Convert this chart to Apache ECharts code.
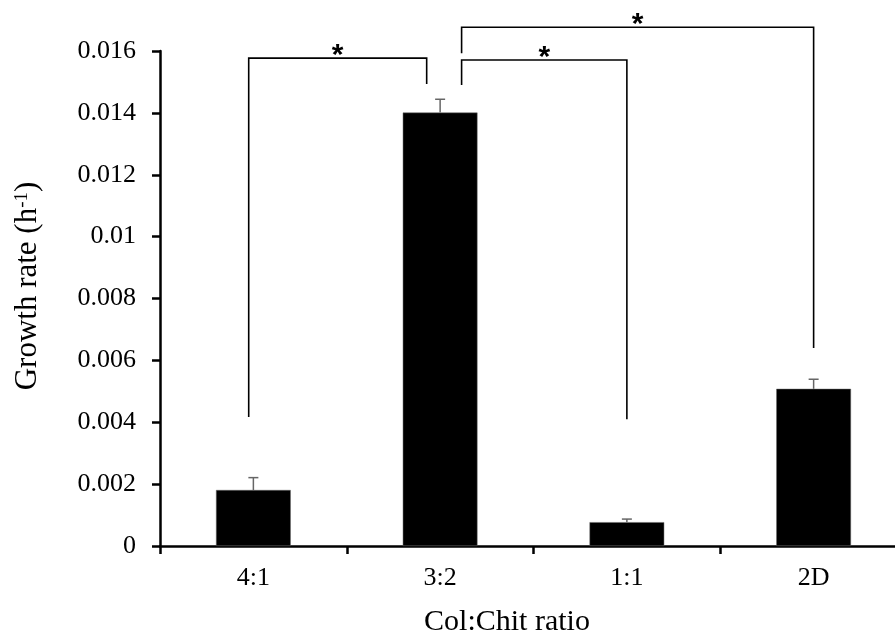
<!DOCTYPE html>
<html>
<head>
<meta charset="utf-8">
<script src="https://cdn.jsdelivr.net/npm/echarts@6/dist/echarts.min.js"></script>
<style>
  html, body { margin: 0; padding: 0; background: #fff; overflow: hidden; }
  /* the original figure is cropped on the right: the plot runs a little past the window */
  #chart { width: 907px; height: 636px; }
</style>
</head>
<body>
<div id="chart"></div>
<script>
// data
const categories = ["4:1", "3:2", "1:1", "2D"];
const growthRate = [0.00181, 0.01401, 0.00077, 0.00508];
const errorTop = [0.00221, 0.01444, 0.00087, 0.00539];
const yMin = 0;
const yMax = 0.016;
const yStep = 0.002;

// significance brackets: [from, to, bar height, end at "from", end at "to"]
const brackets = [
  [0, 1, 0.01577, 0.00417, 0.01493],
  [1, 2, 0.01571, 0.0149, 0.0041],
  [1, 3, 0.01677, 0.01593, 0.0064]
];
const bracketMarks = ["*", "*", "*"];

// horizontal nudge of each bracket end, in fractions of a category width
const bracketShift = [
  [-0.025, -0.072],
  [0.115, 0.0],
  [0.115, 0.0]
];

const serif = "'Liberation Serif', 'Times New Roman', serif";

const chart = echarts.init(document.getElementById("chart"));

const option = {
  animation: false,
  grid: { left: 160, right: 0, top: 51, bottom: 90 },
  xAxis: {
    type: "category",
    data: categories,
    axisLine: { lineStyle: { color: "#000", width: 2.5 } },
    axisTick: { show: true, length: 8, lineStyle: { color: "#000", width: 2.5 } },
    axisLabel: { color: "#000", fontFamily: serif, fontSize: 26, margin: 19 }
  },
  yAxis: {
    type: "value",
    min: yMin,
    max: yMax,
    interval: yStep,
    axisLine: { show: true, lineStyle: { color: "#000", width: 2.5 } },
    axisTick: { show: true, length: 8, lineStyle: { color: "#000", width: 2.5 } },
    splitLine: { show: false },
    axisLabel: { color: "#000", fontFamily: serif, fontSize: 26, margin: 24 }
  },
  graphic: [
    {
      type: "text",
      x: 28,
      y: 286,
      rotation: Math.PI / 2,
      style: {
        text: "{n|Growth rate (h}{s|-1}{n|)}",
        textAlign: "center",
        textVerticalAlign: "middle",
        rich: {
          n: { fontFamily: serif, fontSize: 31, fill: "#000" },
          s: { fontFamily: serif, fontSize: 19, fill: "#000", verticalAlign: "top" }
        }
      }
    },
    {
      type: "text",
      x: 507,
      y: 622,
      style: {
        text: "Col:Chit ratio",
        fontFamily: serif,
        fontSize: 30,
        fill: "#000",
        textAlign: "center",
        textVerticalAlign: "middle"
      }
    }
  ],
  series: [
    {
      type: "bar",
      data: growthRate,
      barWidth: "40%",
      itemStyle: { color: "#000", borderColor: "#666", borderWidth: 0.5 },
      z: 2
    },
    {
      type: "custom",
      data: categories.map((c, i) => [i, growthRate[i], errorTop[i]]),
      encode: { x: 0, y: [1, 2] },
      z: 3,
      renderItem: function (params, api) {
        const base = api.coord([api.value(0), api.value(1)]);
        const top = api.coord([api.value(0), api.value(2)]);
        const half = 5;
        const style = { stroke: "#666", lineWidth: 1.5 };
        return {
          type: "group",
          children: [
            { type: "line", shape: { x1: base[0], y1: base[1], x2: top[0], y2: top[1] }, style: style },
            { type: "line", shape: { x1: top[0] - half, y1: top[1], x2: top[0] + half, y2: top[1] }, style: style }
          ]
        };
      }
    },
    {
      type: "custom",
      data: brackets,
      encode: { x: 0, y: 2 },
      clip: false,
      z: 4,
      renderItem: function (params, api) {
        const i = params.dataIndex;
        const bw = api.size([1, 0])[0];
        const a = api.coord([api.value(0), api.value(2)]);
        const b = api.coord([api.value(1), api.value(2)]);
        const aEnd = api.coord([api.value(0), api.value(3)]);
        const bEnd = api.coord([api.value(1), api.value(4)]);
        const xa = a[0] + bracketShift[i][0] * bw;
        const xb = b[0] + bracketShift[i][1] * bw;
        const y = a[1];
        const style = { stroke: "#000", lineWidth: 1.6, fill: null };
        return {
          type: "group",
          children: [
            {
              type: "polyline",
              shape: { points: [[xa, aEnd[1]], [xa, y], [xb, y], [xb, bEnd[1]]] },
              style: style
            },
            {
              type: "text",
              x: (xa + xb) / 2,
              y: y - 2,
              style: {
                text: bracketMarks[i],
                fontFamily: "'Liberation Sans', Arial, sans-serif",
                fontWeight: "bold",
                fontSize: 30,
                fill: "#000",
                textAlign: "center",
                textVerticalAlign: "middle"
              }
            }
          ]
        };
      }
    }
  ]
};

chart.setOption(option);
</script>
</body>
</html>
